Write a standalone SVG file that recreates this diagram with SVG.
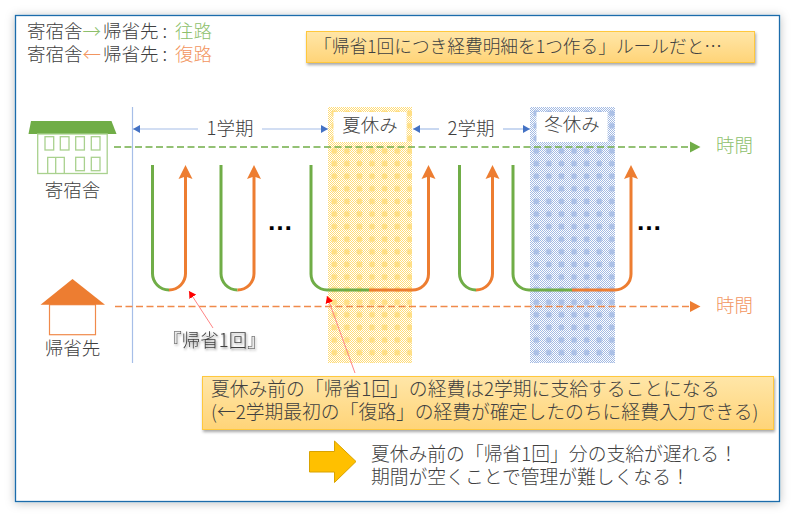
<svg xmlns="http://www.w3.org/2000/svg" width="795" height="517" viewBox="0 0 795 517">
<style>
text{font-family:"Noto Sans CJK JP","Liberation Sans",sans-serif;fill:#404040;font-size:18.500px;font-weight:300}
.c{text-anchor:middle}
.g{fill:#8DBF6C}.o{fill:#F29560}
.w{fill:none;stroke:#A9D18E;stroke-width:1.3}
.u{fill:none;stroke-width:3}
.ug{stroke:#70AD47}.uo{stroke:#ED7D31}
.p{stroke:#A6BEE8;stroke-width:1.2;fill:none;marker-end:url(#bl)}
.r{stroke:#FF8585;stroke-width:1;fill:none;marker-end:url(#rd)}
.box{fill:url(#gold);stroke:#FFC83D;stroke-width:1;filter:url(#sh)}
.t2{font-size:18.800px}
.dd{font-family:"Liberation Sans",sans-serif;fill:#000;font-size:26px;font-weight:700}
</style>
<defs>
<filter id="fr" x="-5%" y="-5%" width="110%" height="110%"><feDropShadow dx="0" dy="1" stdDeviation="5" flood-color="#000" flood-opacity=".25"/></filter>
<filter id="sh" x="-5%" y="-20%" width="110%" height="140%"><feDropShadow dx="1" dy="2" stdDeviation="1.500" flood-color="#000" flood-opacity=".35"/></filter>
<filter id="ts" x="-10%" y="-30%" width="120%" height="170%"><feDropShadow dx="1" dy="1.500" stdDeviation="1.200" flood-color="#000" flood-opacity=".45"/></filter>
<linearGradient id="gold" x1="0" y1="0" x2="0" y2="1"><stop offset="0" stop-color="#FFE6A8"/><stop offset="1" stop-color="#FFD478"/></linearGradient>
<pattern id="cy" width="2" height="2" patternUnits="userSpaceOnUse"><rect width="2" height="2" fill="#fff"/><rect width="1" height="1" fill="#FFDC78"/><rect x="1" y="1" width="1" height="1" fill="#FFDC78"/></pattern>
<pattern id="sy" x="328" y="107" width="12.600" height="12.600" patternUnits="userSpaceOnUse"><rect x="3.500" y="3.500" width="5.500" height="5.500" rx="1.500" fill="#FFDF85"/></pattern>
<pattern id="cb" width="2" height="2" patternUnits="userSpaceOnUse"><rect width="2" height="2" fill="#fff"/><rect width="1" height="1" fill="#A3BAE3"/><rect x="1" y="1" width="1" height="1" fill="#A3BAE3"/></pattern>
<pattern id="sb" x="530" y="107" width="12.600" height="12.600" patternUnits="userSpaceOnUse"><rect x="3.500" y="3.500" width="5.500" height="5.500" rx="1.500" fill="#ABC0E6"/></pattern>
<marker id="bl" markerUnits="userSpaceOnUse" markerWidth="7" markerHeight="8" refX="7" refY="4" orient="auto"><path d="M0 0L7 4L0 8Z" fill="#4472C4"/></marker>
<marker id="rd" markerUnits="userSpaceOnUse" markerWidth="8" markerHeight="8" refX="7" refY="4" orient="auto"><path d="M0 0L7 4L0 8Z" fill="#F00"/></marker>
<marker id="ag" markerUnits="userSpaceOnUse" markerWidth="11" markerHeight="12" refX="1" refY="6" orient="auto"><path d="M0 .5L10.500 6L0 11.500Z" fill="#70AD47"/></marker>
<marker id="ao" markerUnits="userSpaceOnUse" markerWidth="11" markerHeight="12" refX="1" refY="6" orient="auto"><path d="M0 .5L10.500 6L0 11.500Z" fill="#ED7D31"/></marker>
</defs>
<rect id="frame" x="15.500" y="15.500" width="764" height="486" fill="#fff" stroke="#1B6CAB" stroke-width="1.300" filter="url(#fr)"/>

<g id="band-summer"><rect x="328" y="107" width="84" height="256" fill="url(#cy)"/><rect x="328" y="107" width="84" height="256" fill="url(#sy)"/><rect x="333.500" y="112" width="73" height="30" fill="#fff"/><text class="c" x="370" y="132">夏休み</text></g>
<g id="band-winter"><rect x="530" y="107" width="85" height="256" fill="url(#cb)"/><rect x="530" y="107" width="85" height="256" fill="url(#sb)"/><rect x="536.500" y="112" width="71" height="30" fill="#fff"/><text class="c" x="572" y="131">冬休み</text></g>

<g id="connectors">
<path d="M132.500 107V363" stroke="#A6BEE8" stroke-width="1.200" fill="none"/>
<path class="p" d="M198 129H133"/><path class="p" d="M262 129H328"/>
<path class="p" d="M439 129H413"/><path class="p" d="M503 129H530"/>
<path d="M114 147H691" stroke="#70AD47" stroke-width="1.300" stroke-dasharray="7 3.500" fill="none" marker-end="url(#ag)"/>
<path d="M115 306.500H691" stroke="#F08A4B" stroke-width="1.600" stroke-dasharray="7 3.500" fill="none" marker-end="url(#ao)"/>
<path class="u ug" d="M152.500 165V273A16.500 16.500 0 0 0 169 290"/><path class="u uo" d="M169 290A16.500 16.500 0 0 0 185.500 273V171"/><path d="M185.500 165L192.500 179L185.500 176.500L178.500 179Z" fill="#ED7D31"/>
<path class="u ug" d="M221 165V273A16.500 16.500 0 0 0 237.500 290"/><path class="u uo" d="M237.500 290A16.500 16.500 0 0 0 254 273V171"/><path d="M254 165L261 179L254 176.500L247 179Z" fill="#ED7D31"/>
<path class="u ug" d="M311 165V274A16 16 0 0 0 327 290H369"/><path class="u uo" d="M369 290H412A16 16 0 0 0 428.500 274V171"/><path d="M428.500 165L435.500 179L428.500 176.500L421.500 179Z" fill="#ED7D31"/>
<path class="u ug" d="M459.500 165V273A16.500 16.500 0 0 0 476 290"/><path class="u uo" d="M476 290A16.500 16.500 0 0 0 492.500 273V171"/><path d="M492.500 165L499.500 179L492.500 176.500L485.500 179Z" fill="#ED7D31"/>
<path class="u ug" d="M513 165V274A16 16 0 0 0 529 290H572"/><path class="u uo" d="M572 290H615A16 16 0 0 0 631 274V171"/><path d="M631 165L638 179L631 176.500L624 179Z" fill="#ED7D31"/>
<path class="r" d="M213 328L189 291"/><path class="r" d="M355 373L327 296"/>
</g>

<g id="legend">
<text x="27" y="38">寄宿舎<tspan class="g">→</tspan><tspan x="103">帰省先 :</tspan><tspan class="g" x="175">往路</tspan></text>
<text x="27" y="61">寄宿舎<tspan class="o">←</tspan><tspan x="103">帰省先 :</tspan><tspan class="o" x="175">復路</tspan></text>
</g>

<g id="note-top"><rect class="box" x="306.500" y="31.500" width="448" height="31"/><text x="314" y="53" style="font-size:17.700px">「帰省1回につき経費明細を1つ作る」ルールだと…</text></g>

<g id="label-term1"><text class="c" x="230" y="135">1学期</text></g>
<g id="label-term2"><text class="c" x="471" y="135">2学期</text></g>

<g id="dorm">
<path d="M31 121H111.500L116.500 134H28.500Z" fill="#70AD47"/>
<rect class="w" x="37.700" y="134" width="69.500" height="39.500"/>
<rect class="w" x="45" y="136.700" width="8.700" height="13.300"/><rect class="w" x="60.300" y="136.700" width="8.700" height="13.300"/><rect class="w" x="75.700" y="136.700" width="8.700" height="13.300"/><rect class="w" x="91.300" y="136.700" width="8.700" height="13.300"/>
<path class="w" d="M47.700 173.500V157.300H64.300V173.500M55.700 157.300V173.500"/>
<rect class="w" x="75.700" y="157.300" width="8.700" height="13.400"/><rect class="w" x="91.300" y="157.300" width="8.700" height="13.400"/>
<text class="c" x="72.500" y="197">寄宿舎</text>
</g>
<g id="home">
<rect x="49.500" y="304.700" width="46" height="30" fill="#fff" stroke="#F08A4B" stroke-width="1.200"/>
<path d="M72.500 279L105 304.700H40.500Z" fill="#ED7D31"/>
<text class="c" x="72.500" y="355">帰省先</text>
</g>
<g id="label-one-trip"><text class="c" x="214.500" y="347" filter="url(#ts)">『帰省1回』</text></g>
<g id="dots"><text class="c dd" x="280" y="230">…</text><text class="c dd" x="649" y="230">…</text></g>
<g id="time-labels"><text class="g" x="716" y="152">時間</text><text class="o" x="716" y="312">時間</text></g>

<g id="note-bottom"><rect class="box" x="202.500" y="376.500" width="571" height="53"/><text class="t2" x="211" y="396">夏休み前の「帰省1回」の経費は2学期に支給することになる</text><text class="t2" x="211" y="419">(←2学期最初の「復路」の経費が確定したのちに経費入力できる)</text></g>
<g id="result-arrow"><path d="M309.500 451.500H334.500V441L356 461.500L334.500 482.500V472H309.500Z" fill="#FFC000" stroke="#D9A300" stroke-width="1"/></g>
<g id="result-text"><text class="t2" x="371" y="461">夏休み前の「帰省1回」分の支給が遅れる！</text><text class="t2" x="371" y="484">期間が空くことで管理が難しくなる！</text></g>
</svg>
